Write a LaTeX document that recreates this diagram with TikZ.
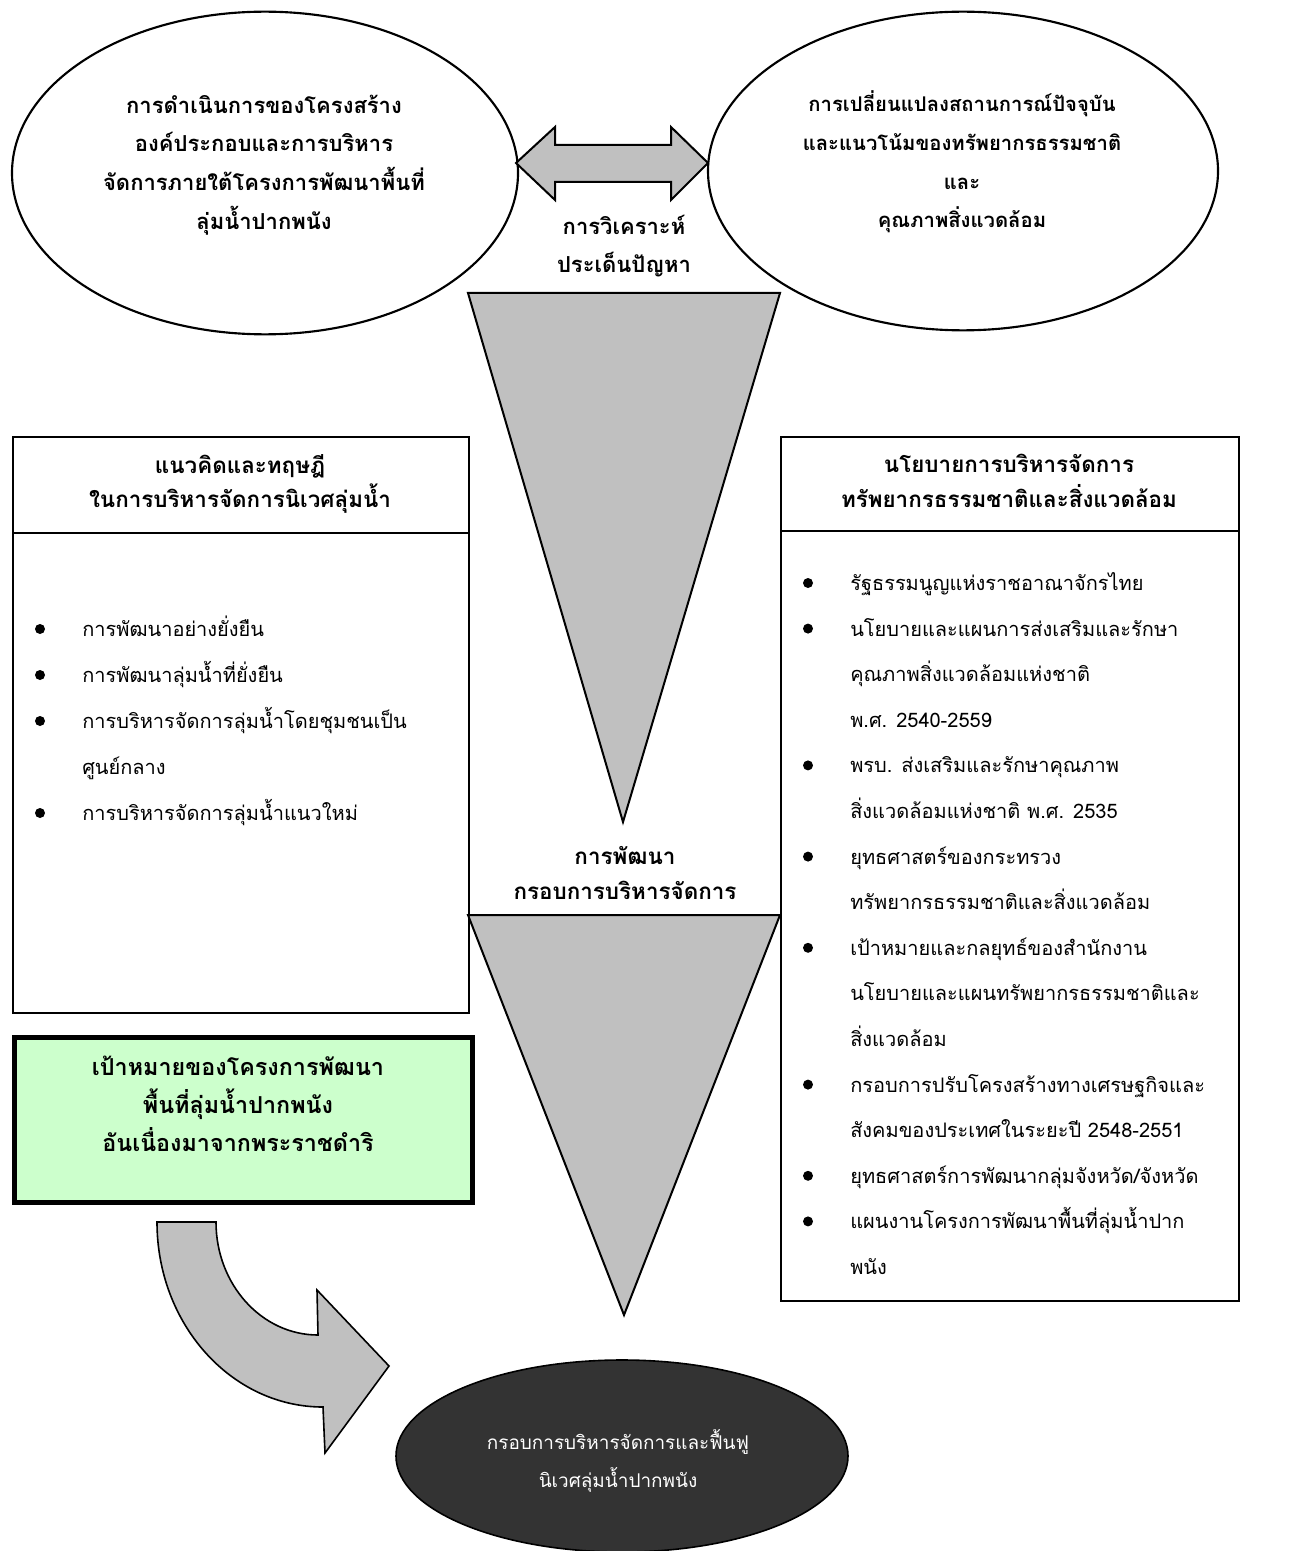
\documentclass[tikz,border=0pt]{standalone}
\usepackage{fontspec}
\setmainfont[Script=Thai]{Loma}
\usetikzlibrary{shapes.geometric}
\definecolor{grayfill}{HTML}{C0C0C0}
\definecolor{greenfill}{HTML}{CCFFCC}
\definecolor{darkfill}{HTML}{333333}
\begin{document}
\begin{tikzpicture}[x=0.75pt,y=-0.75pt,
  outl/.style={draw=black, line width=1.5pt},
  grayshape/.style={outl, fill=grayfill, line join=miter},
  ell/.style={draw=black, line width=1.6pt, ellipse, inner sep=0pt},
  boxst/.style={draw=black, line width=1.7pt, rectangle, inner sep=0pt, anchor=north west},
  btxt/.style={font=\bfseries\fontsize{16.5}{29}\selectfont, align=center, inner sep=0pt},
  htxt/.style={font=\bfseries\fontsize{16.8}{26}\selectfont, align=center, inner sep=0pt},
  itxt/.style={font=\fontsize{15}{20}\selectfont, anchor=mid west, inner sep=0pt, yshift=-3pt},
  bul/.style={circle, fill=black, inner sep=0pt, minimum size=7.5pt}
]
\useasboundingbox (0,0) rectangle (1292,1551);
\fill[white] (0,0) rectangle (1292,1551);

% top ellipses
\node[ell, minimum width=379.5pt, minimum height=242pt] (e1) at (265,173) {};
\node[btxt] (e1t) at (264,165) {การดำเนินการของโครงสร้าง\\องค์ประกอบและการบริหาร\\จัดการภายใต้โครงการพัฒนาพื้นที่\\ลุ่มน้ำปากพนัง};
\node[ell, minimum width=382.5pt, minimum height=239pt] (e2) at (963,171) {};
\node[btxt, font=\bfseries\fontsize{15.2}{29}\selectfont] (e2t) at (962,162) {การเปลี่ยนแปลงสถานการณ์ปัจจุบัน\\และแนวโน้มของทรัพยากรธรรมชาติ\\และ\\คุณภาพสิ่งแวดล้อม};

% double arrow between ellipses
\coordinate (dl) at (516,163);
\coordinate (dr) at (708,163);
\draw[grayshape] (dl) -- (555,127) -- (555,145) -- (671,145) -- (671,127) -- (dr)
  -- (671,200) -- (671,182) -- (555,182) -- (555,200) -- cycle;

\node[btxt] (an) at (624,246) {การวิเคราะห์\\ประเด็นปัญหา};

% left box
\node[boxst, minimum width=342pt, minimum height=432pt] (lbox) at (12,436) {};
\draw[line width=1.7pt] (12,533) -- (468,533);
\node[htxt] (lh) at (240,484) {แนวคิดและทฤษฎี\\ในการบริหารจัดการนิเวศลุ่มน้ำ};
\node[bul] (lb1) at (40,629) {}; \node[itxt] (li1) at (82,629) {การพัฒนาอย่างยั่งยืน};
\node[bul] (lb2) at (40,675) {}; \node[itxt] (li2) at (82,675) {การพัฒนาลุ่มน้ำที่ยั่งยืน};
\node[bul] (lb3) at (40,721) {}; \node[itxt] (li3) at (82,721) {การบริหารจัดการลุ่มน้ำโดยชุมชนเป็น};
\node[itxt] (li3b) at (82,767) {ศูนย์กลาง};
\node[bul] (lb4) at (40,813) {}; \node[itxt] (li4) at (82,813) {การบริหารจัดการลุ่มน้ำแนวใหม่};

% right box
\node[boxst, minimum width=343.5pt, minimum height=648pt] (rbox) at (780,436) {};
\draw[line width=1.7pt] (780,531) -- (1238,531);
\node[htxt] (rh) at (1009,481) {นโยบายการบริหารจัดการ\\ทรัพยากรธรรมชาติและสิ่งแวดล้อม};
\node[bul] (rb1) at (808,583) {}; \node[itxt] (ri1) at (850,583) {รัฐธรรมนูญแห่งราชอาณาจักรไทย};
\node[bul] (rb2) at (808,628.6) {}; \node[itxt] (ri2) at (850,628.6) {นโยบายและแผนการส่งเสริมและรักษา};
\node[itxt] (ri2b) at (850,674.2) {คุณภาพสิ่งแวดล้อมแห่งชาติ};
\node[itxt] (ri2c) at (850,719.8) {พ.ศ. 2540-2559};
\node[bul] (rb3) at (808,765.4) {}; \node[itxt] (ri3) at (850,765.4) {พรบ. ส่งเสริมและรักษาคุณภาพ};
\node[itxt] (ri3b) at (850,811) {สิ่งแวดล้อมแห่งชาติ พ.ศ. 2535};
\node[bul] (rb4) at (808,856.6) {}; \node[itxt] (ri4) at (850,856.6) {ยุทธศาสตร์ของกระทรวง};
\node[itxt] (ri4b) at (850,902.2) {ทรัพยากรธรรมชาติและสิ่งแวดล้อม};
\node[bul] (rb5) at (808,947.8) {}; \node[itxt] (ri5) at (850,947.8) {เป้าหมายและกลยุทธ์ของสำนักงาน};
\node[itxt] (ri5b) at (850,993.4) {นโยบายและแผนทรัพยากรธรรมชาติและ};
\node[itxt] (ri5c) at (850,1039) {สิ่งแวดล้อม};
\node[bul] (rb6) at (808,1084.6) {}; \node[itxt] (ri6) at (850,1084.6) {กรอบการปรับโครงสร้างทางเศรษฐกิจและ};
\node[itxt] (ri6b) at (850,1130.2) {สังคมของประเทศในระยะปี 2548-2551};
\node[bul] (rb7) at (808,1175.8) {}; \node[itxt] (ri7) at (850,1175.8) {ยุทธศาสตร์การพัฒนากลุ่มจังหวัด/จังหวัด};
\node[bul] (rb8) at (808,1221.4) {}; \node[itxt] (ri8) at (850,1221.4) {แผนงานโครงการพัฒนาพื้นที่ลุ่มน้ำปาก};
\node[itxt] (ri8b) at (850,1267) {พนัง};

% funnels
\draw[grayshape] (468,293) -- (780,293) -- (623,822) -- cycle;
\node[htxt] (dev) at (625,873) {การพัฒนา\\กรอบการบริหารจัดการ};
\draw[grayshape] (468,915) -- (780,915) -- (624,1315) -- cycle;

% green box
\node[draw=black, line width=3.8pt, fill=greenfill, rectangle, inner sep=0pt, anchor=north west,
      minimum width=343.5pt, minimum height=123.75pt] (gbox) at (12,1035) {};
\node[align=center, inner sep=0pt, font=\bfseries\fontsize{17.5}{28.5}\selectfont] (gt) at (238,1104) {เป้าหมายของโครงการพัฒนา\\พื้นที่ลุ่มน้ำปากพนัง\\อันเนื่องมาจากพระราชดำริ};

% curved arrow
\draw[grayshape, line width=1.2pt] (157,1222) -- (216,1222)
  arc[start angle=180, end angle=90, x radius=102, y radius=113]
  -- (317,1290) -- (389,1366) -- (325,1453) -- (323,1407)
  arc[start angle=90, end angle=180, x radius=166, y radius=185] -- cycle;

% bottom ellipse
\node[ell, line width=1.2pt, fill=darkfill, minimum width=339pt, minimum height=144pt] (e3) at (622,1456) {};
\node[align=center, inner sep=0pt, text=white, font=\fontsize{14.2}{29}\selectfont] (e3t) at (618,1461) {กรอบการบริหารจัดการและฟื้นฟู\\นิเวศลุ่มน้ำปากพนัง};
\end{tikzpicture}
\end{document}
